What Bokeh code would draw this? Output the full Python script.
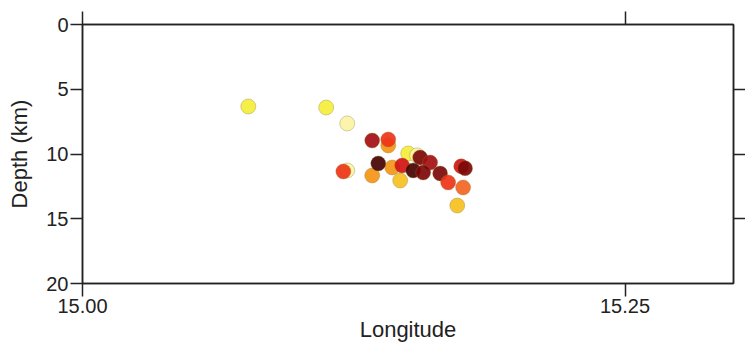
from bokeh.plotting import figure
from bokeh.models import (Range1d, LinearAxis, FixedTicker, ColumnDataSource,
                          NumeralTickFormatter, CustomJSTickFormatter)
from bokeh.transform import linear_cmap
from bokeh.embed import file_html
from bokeh.resources import INLINE

# Earthquake hypocentres: longitude, depth (km), colour class (0 = pale ... 9 = darkest)
lon = [15.0764, 15.1123, 15.1220, 15.1220, 15.1335, 15.1409, 15.1409, 15.1202,
       15.1335, 15.1427, 15.1464, 15.1501, 15.1542, 15.1363, 15.1473, 15.1556,
       15.1602, 15.1524, 15.1570, 15.1648, 15.1685, 15.1754, 15.1745, 15.1763,
       15.1727]
depth = [6.33, 6.41, 7.64, 11.27, 8.96, 9.34, 8.88, 11.35,
         11.66, 11.04, 12.05, 9.96, 10.10, 10.73, 10.89, 10.27,
         10.66, 11.27, 11.43, 11.50, 12.20, 12.59, 10.95, 11.10,
         13.98]
level = [1, 1, 0, 0, 7, 3, 5, 5,
         3, 3, 2, 1, 0, 9, 6, 8,
         7, 9, 8, 8, 5, 4, 6, 8,
         2]

palette = ["#fbf3a6", "#f6ee3a", "#f5c020", "#f59516", "#f46422",
           "#ee3318", "#d41212", "#a30f12", "#7c0808", "#470202"]

x_ticks = [15.00, 15.25]
y_ticks = [0, 5, 10, 15, 20]
y_ticks_right = [5, 10, 15]

INK = "#222222"
FONT = "Liberation Sans"

p = figure(width=745, height=350, output_backend="svg", toolbar_location=None,
           x_range=Range1d(15.0, 15.30), y_range=Range1d(20, 0),
           x_axis_label="Longitude", y_axis_label="Depth (km)",
           min_border_left=82, min_border_right=12, min_border_top=24,
           min_border_bottom=67)
p.background_fill_color = "white"
p.border_fill_color = "white"
p.outline_line_color = INK
p.outline_line_width = 1.5
p.xgrid.visible = False
p.ygrid.visible = False

src = ColumnDataSource(dict(lon=lon, depth=depth, level=level))
p.scatter("lon", "depth", source=src, size=15,
          fill_color=linear_cmap("level", palette, -0.5, 9.5), fill_alpha=0.92,
          line_color="#8a7a30", line_alpha=0.35, line_width=1)

def style(ax, labels=True):
    ax.axis_line_color = INK
    ax.axis_line_width = 1.5
    ax.major_tick_line_color = INK
    ax.major_tick_line_width = 1.5
    ax.major_tick_in = 0
    ax.minor_tick_line_color = None
    ax.major_label_text_font = FONT
    ax.major_label_text_color = INK
    ax.axis_label_text_font = FONT
    ax.axis_label_text_font_style = "normal"
    ax.axis_label_text_color = INK
    if not labels:
        ax.formatter = CustomJSTickFormatter(code="return ''")
        ax.major_label_standoff = 0

xa = p.xaxis[0]
style(xa)
xa.ticker = FixedTicker(ticks=x_ticks)
xa.formatter = NumeralTickFormatter(format="0.00")
xa.major_tick_out = 13
xa.major_label_standoff = 2
xa.major_label_text_font_size = "20px"
xa.axis_label_text_font_size = "22px"
xa.axis_label_standoff = 1

ya = p.yaxis[0]
style(ya)
ya.ticker = FixedTicker(ticks=y_ticks)
ya.major_tick_out = 12
ya.major_label_standoff = 2
ya.major_label_text_font_size = "20px"
ya.axis_label_text_font_size = "22px"
ya.axis_label_standoff = 11

top = LinearAxis(ticker=FixedTicker(ticks=x_ticks))
style(top, labels=False)
top.major_tick_out = 13
p.add_layout(top, "above")

right = LinearAxis(ticker=FixedTicker(ticks=y_ticks_right))
style(right, labels=False)
right.major_tick_out = 12
p.add_layout(right, "right")

open("out.html", "w").write(file_html(p, INLINE))
